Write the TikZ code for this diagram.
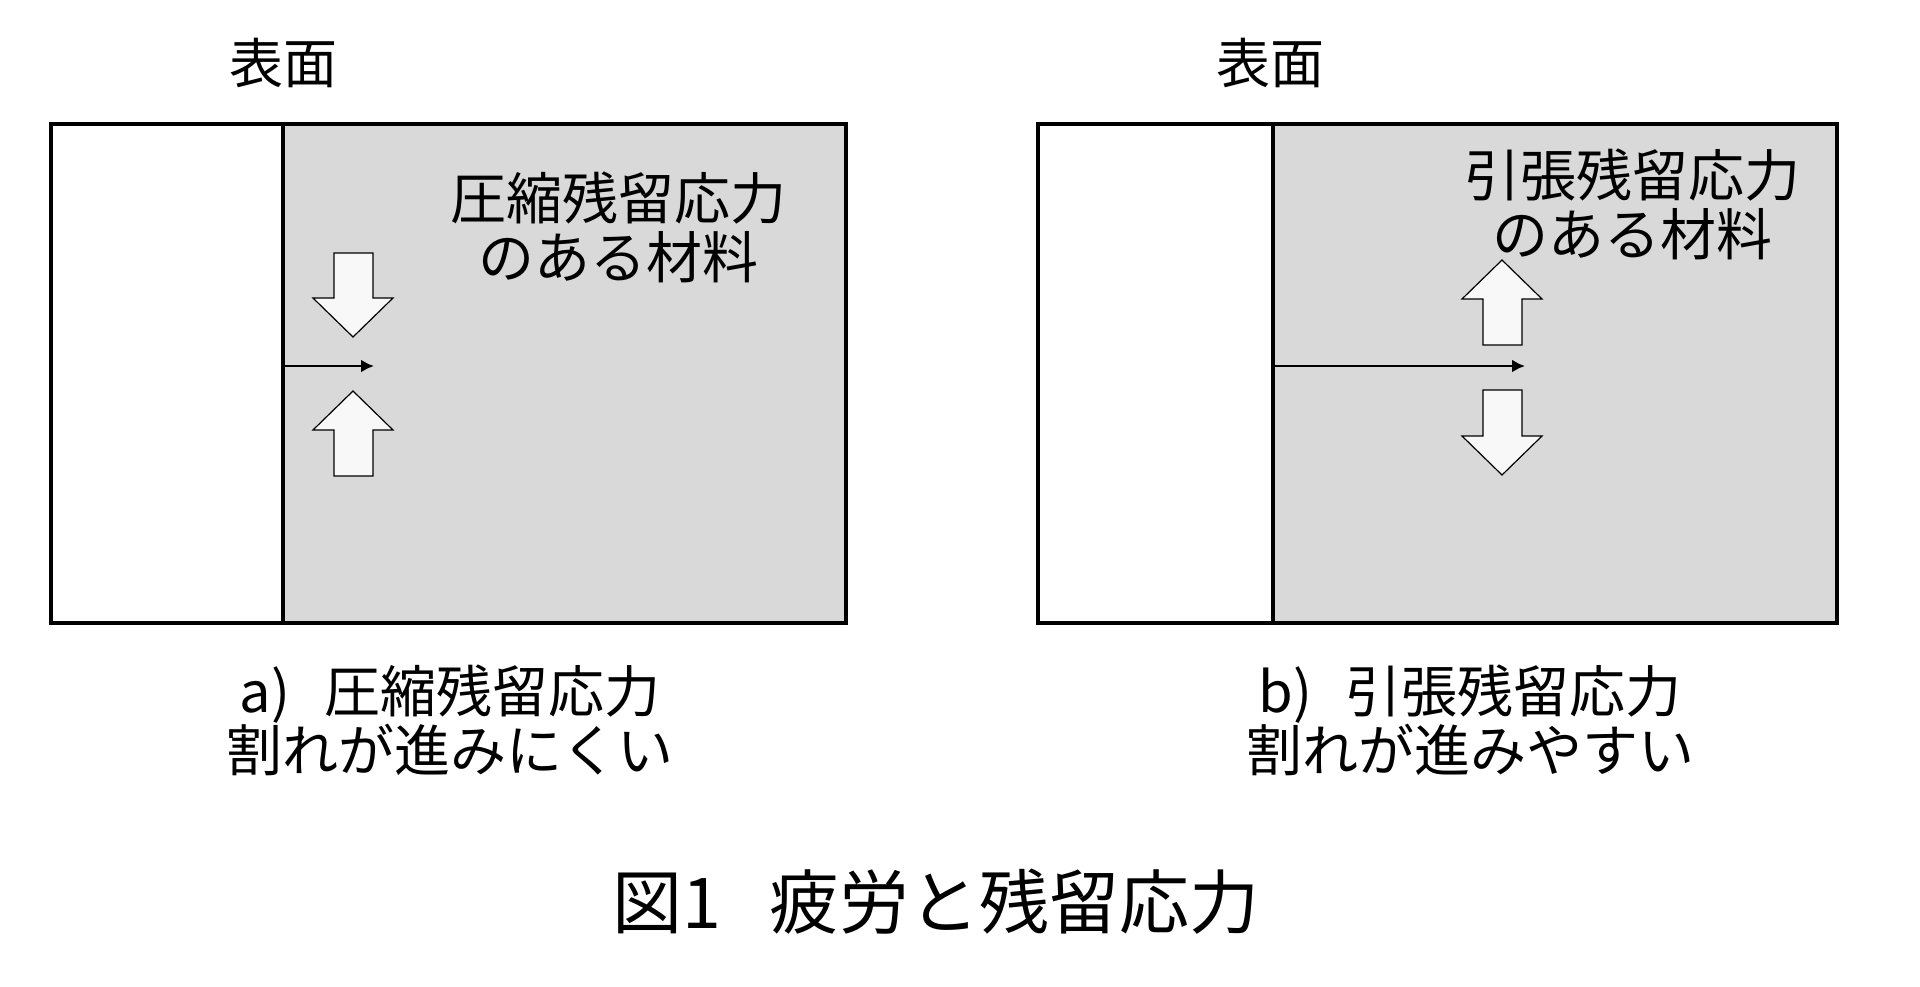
\documentclass[tikz,border=0pt]{standalone}
\usepackage{fontspec}
\setmainfont{Noto Sans CJK JP}
\usetikzlibrary{arrows.meta}
\definecolor{matgray}{HTML}{D9D9D9}
\definecolor{arrfill}{HTML}{F8F8F8}
\tikzset{
  frame/.style={line width=1.7pt, draw=black},
  blockarrow/.style={draw=black, fill=arrfill, line width=0.6pt, line join=miter},
  crack/.style={line width=1.3pt, -{Latex[length=6.5pt,width=6.5pt]}},
  lbl/.style={inner sep=0pt, font=\fontsize{27pt}{29pt}\selectfont},
  body/.style={inner sep=0pt, align=center, font=\fontsize{28pt}{29.5pt}\selectfont},
  ttl/.style={inner sep=0pt, font=\fontsize{35pt}{38pt}\selectfont}
}
\begin{document}
\begin{tikzpicture}[x=0.5pt,y=-0.5pt]
\useasboundingbox (0,0) rectangle (1920,986);
% left panel
\fill[matgray] (283,124) rectangle (846,623);
\draw[frame] (51,124) rectangle (846,623);
\draw[frame] (283,124) -- (283,623);
% right panel
\fill[matgray] (1273,124) rectangle (1837,623);
\draw[frame] (1038,124) rectangle (1837,623);
\draw[frame] (1273,124) -- (1273,623);
% block arrows left (compressive)
\draw[blockarrow] (334,253) -- (373,253) -- (373,298) -- (393,298) -- (353,337) -- (313,298) -- (334,298) -- cycle;
\draw[blockarrow] (334,476) -- (373,476) -- (373,430) -- (393,430) -- (353,391) -- (313,430) -- (334,430) -- cycle;
% block arrows right (tensile)
\draw[blockarrow] (1483,345) -- (1522,345) -- (1522,299) -- (1542,299) -- (1502,260) -- (1462,299) -- (1483,299) -- cycle;
\draw[blockarrow] (1483,390) -- (1522,390) -- (1522,436) -- (1542,436) -- (1502,475) -- (1462,436) -- (1483,436) -- cycle;
% cracks
\coordinate (cAs) at (284,366);
\coordinate (cAe) at (374,366);
\coordinate (cBs) at (1274,366);
\coordinate (cBe) at (1525,366);
\draw[crack] (cAs) -- (cAe);
\draw[crack] (cBs) -- (cBe);
% texts
\node[lbl] (surfA) at (283,63) {表面};
\node[lbl] (surfB) at (1270,63) {表面};
\node[body] (matA) at (618,227) {圧縮残留応力\\のある材料};
\node[body] (matB) at (1632,204) {引張残留応力\\のある材料};
\node[body] (capA) at (450,720) {a)\hspace{0.6em}圧縮残留応力\\割れが進みにくい};
\node[body] (capB) at (1470,720) {b)\hspace{0.6em}引張残留応力\\割れが進みやすい};
\node[ttl] (title) at (936,902) {図1\hspace{0.7em}疲労と残留応力};
\end{tikzpicture}
\end{document}
